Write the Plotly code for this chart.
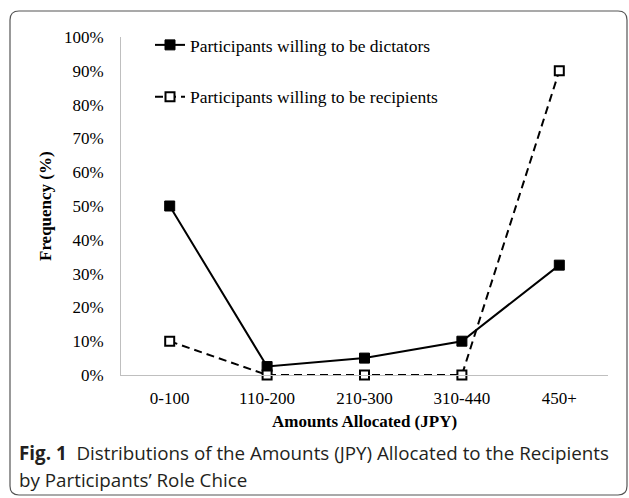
import plotly.graph_objects as go

categories = ["0-100", "110-200", "210-300", "310-440", "450+"]
dictators = [50, 2.5, 5, 10, 32.5]
recipients = [10, 0, 0, 0, 90]
y_ticks = list(range(0, 101, 10))
y_tick_labels = [f"{v}%" for v in y_ticks]

W, H = 629, 498
ML, MR, MT, MB = 121, 21, 37, 123
PW, PH = W - ML - MR, H - MT - MB


def px(x):
    return (x - ML) / PW


def py(y):
    return (H - MB - y) / PH


serif = "Liberation Serif, Times New Roman, serif"
sans = "Open Sans, Noto Sans, sans-serif"

fig = go.Figure()
fig.add_trace(go.Scatter(
    x=categories, y=dictators, mode="lines+markers",
    name="Participants willing to be dictators",
    line=dict(color="black", width=2),
    marker=dict(symbol="square", size=10, color="black", line=dict(color="black", width=1)),
    legendgroup="a", cliponaxis=False,
))
fig.add_trace(go.Scatter(
    x=categories, y=recipients, mode="lines+markers",
    name="Participants willing to be recipients",
    line=dict(color="black", width=2, dash="8px,5px"),
    marker=dict(symbol="square", size=9, color="white", line=dict(color="black", width=2)),
    legendgroup="b", cliponaxis=False,
))

# rounded frame
x0, y0, x1, y1, r = 10, 11, 627, 495, 9
path = (
    f"M {px(x0 + r)},{py(y0)} L {px(x1 - r)},{py(y0)} "
    f"Q {px(x1)},{py(y0)} {px(x1)},{py(y0 + r)} "
    f"L {px(x1)},{py(y1 - r)} Q {px(x1)},{py(y1)} {px(x1 - r)},{py(y1)} "
    f"L {px(x0 + r)},{py(y1)} Q {px(x0)},{py(y1)} {px(x0)},{py(y1 - r)} "
    f"L {px(x0)},{py(y0 + r)} Q {px(x0)},{py(y0)} {px(x0 + r)},{py(y0)} Z"
)
fig.add_shape(type="path", path=path, xref="paper", yref="paper",
              line=dict(color="#555555", width=1.2), layer="below")

fig.add_annotation(x=0.5, xref="paper", y=py(421), yref="paper",
                   text="<b>Amounts Allocated (JPY)</b>", showarrow=False,
                   font=dict(family=serif, size=17, color="black"),
                   xanchor="center", yanchor="middle")
fig.add_annotation(x=px(45), xref="paper", y=0.5, yref="paper",
                   text="<b>Frequency (%)</b>", showarrow=False, textangle=-90,
                   font=dict(family=serif, size=17, color="black"),
                   xanchor="center", yanchor="middle")
fig.add_annotation(x=px(17), xref="paper", y=py(453), yref="paper",
                   text="<b>Fig. 1</b>  Distributions of the Amounts (JPY) Allocated to the Recipients",
                   showarrow=False, font=dict(family=sans, size=18.8, color="#231f20"),
                   xanchor="left", yanchor="middle")
fig.add_annotation(x=px(17), xref="paper", y=py(480), yref="paper",
                   text="by Participants\u2019 Role Chice",
                   showarrow=False, font=dict(family=sans, size=18.8, color="#231f20"),
                   xanchor="left", yanchor="middle")

fig.update_layout(
    width=W, height=H,
    margin=dict(l=ML, r=MR, t=MT, b=MB),
    paper_bgcolor="white", plot_bgcolor="white",
    font=dict(family=serif, size=17, color="black"),
    showlegend=True,
    legend=dict(x=px(150), y=py(27), xanchor="left", yanchor="top",
                bgcolor="rgba(0,0,0,0)", tracegroupgap=26,
                font=dict(family=serif, size=17.5, color="black")),
    xaxis=dict(type="category", range=[-0.5, 4.5], showgrid=False, zeroline=False,
               showline=True, linecolor="#bfbfbf", linewidth=1,
               ticks="outside", ticklen=8, tickcolor="rgba(0,0,0,0)",
               tickfont=dict(family=serif, size=17, color="black")),
    yaxis=dict(range=[0, 100], tickvals=y_ticks, ticktext=y_tick_labels,
               showgrid=False, zeroline=False,
               showline=True, linecolor="#bfbfbf", linewidth=1,
               ticks="outside", ticklen=13, tickcolor="rgba(0,0,0,0)",
               tickfont=dict(family=serif, size=17, color="black")),
)

fig.write_html("out.html", config={"displayModeBar": False},
               post_script="document.body.style.margin='0px';document.body.style.overflow='hidden';")
